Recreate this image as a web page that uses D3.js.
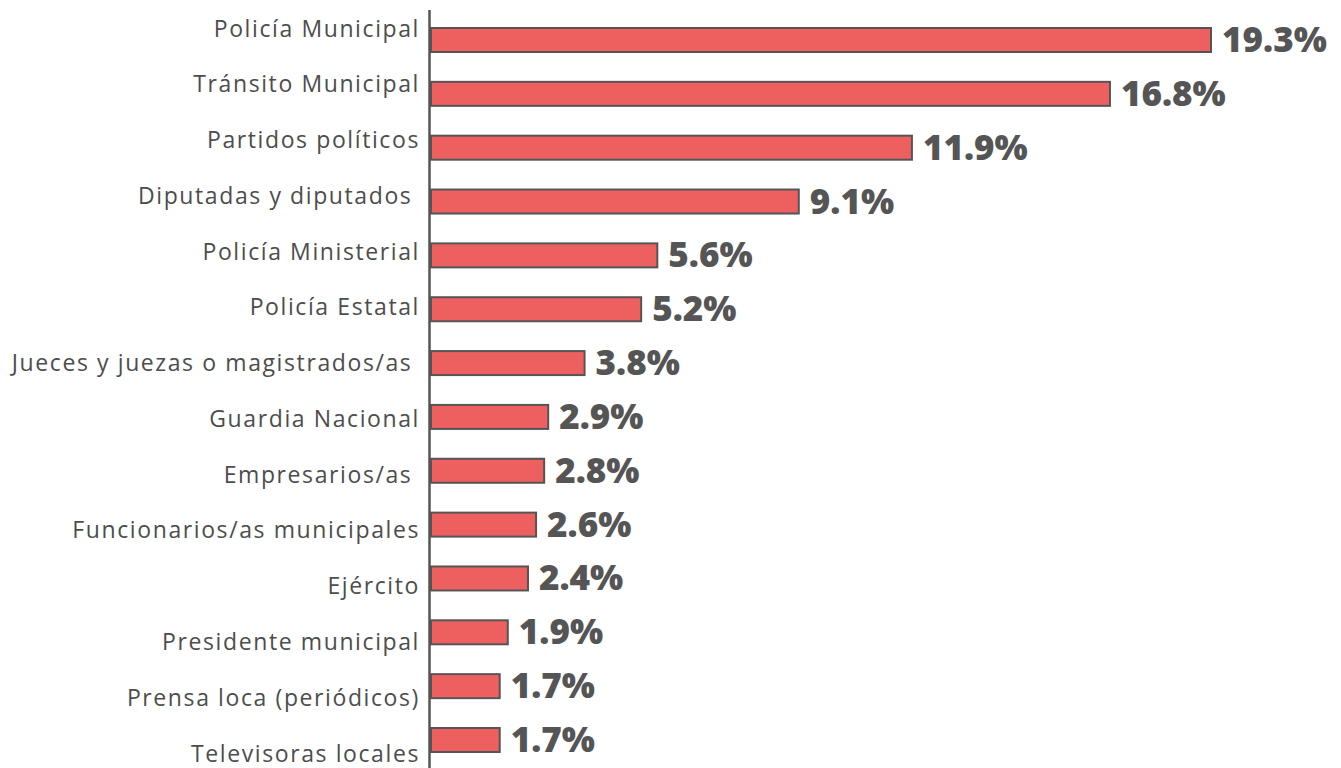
<!DOCTYPE html>
<html>
<head>
<meta charset="utf-8">
<script src="https://cdn.jsdelivr.net/npm/d3@7"></script>
<style>
  html, body { margin: 0; padding: 0; background: #fff; }
  .cat { font-family: "Open Sans", sans-serif; font-size: 23px; fill: #4d4d4d; letter-spacing: 1.6px; white-space: pre; }
  .val { font-family: "Open Sans", sans-serif; font-size: 35px; font-weight: 800; fill: #555; }
</style>
</head>
<body>
<div id="chart"></div>
<script>
// institutions and share of mentions (%)
const categories = [
    "Policía Municipal",
    "Tránsito Municipal",
    "Partidos políticos",
    "Diputadas y diputados ",
    "Policía Ministerial",
    "Policía Estatal",
    "Jueces y juezas o magistrados/as ",
    "Guardia Nacional",
    "Empresarios/as ",
    "Funcionarios/as municipales",
    "Ejército",
    "Presidente municipal",
    "Prensa loca (periódicos)",
    "Televisoras locales"
];
const values = [19.3, 16.8, 11.9, 9.1, 5.6, 5.2, 3.8, 2.9, 2.8, 2.6, 2.4, 1.9, 1.7, 1.7];
const valueLabels = ["19.3%", "16.8%", "11.9%", "9.1%", "5.6%", "5.2%", "3.8%", "2.9%", "2.8%", "2.6%", "2.4%", "1.9%", "1.7%", "1.7%"];

const width = 1341, height = 768;
const rows = categories.map((c, i) => ({ name: c, value: values[i], label: valueLabels[i], i }));

const svg = d3.select("#chart").append("svg")
    .attr("width", width)
    .attr("height", height);

const x = d3.scaleLinear().domain([0, 19.3]).range([431, 1211]);
// bars and labels sit on slightly different pitches in the original
const yBar = d3.scalePoint().domain(d3.range(rows.length)).range([40, 740]);
const yLab = d3.scalePoint().domain(d3.range(rows.length)).range([36.5, 761.5]);

svg.selectAll("rect.bar")
    .data(rows)
    .join("rect")
    .attr("class", "bar")
    .attr("x", x(0))
    .attr("y", d => yBar(d.i) - 12)
    .attr("width", d => x(d.value) - x(0))
    .attr("height", 24)
    .attr("fill", "#EE6060")
    .attr("stroke", "#555")
    .attr("stroke-width", 2);

svg.append("line")
    .attr("x1", 429.5).attr("x2", 429.5)
    .attr("y1", 10).attr("y2", height)
    .attr("stroke", "#555")
    .attr("stroke-width", 2.5);

// letter-spacing leaves a trailing gap, so anchor a little further right
svg.selectAll("text.cat")
    .data(rows)
    .join("text")
    .attr("class", "cat")
    .attr("x", 420)
    .attr("y", d => yLab(d.i))
    .attr("text-anchor", "end")
    .text(d => d.name);

svg.selectAll("text.val")
    .data(rows)
    .join("text")
    .attr("class", "val")
    .attr("x", d => x(d.value) + 11)
    .attr("y", d => yBar(d.i) + 12)
    .text(d => d.label);
</script>
</body>
</html>
